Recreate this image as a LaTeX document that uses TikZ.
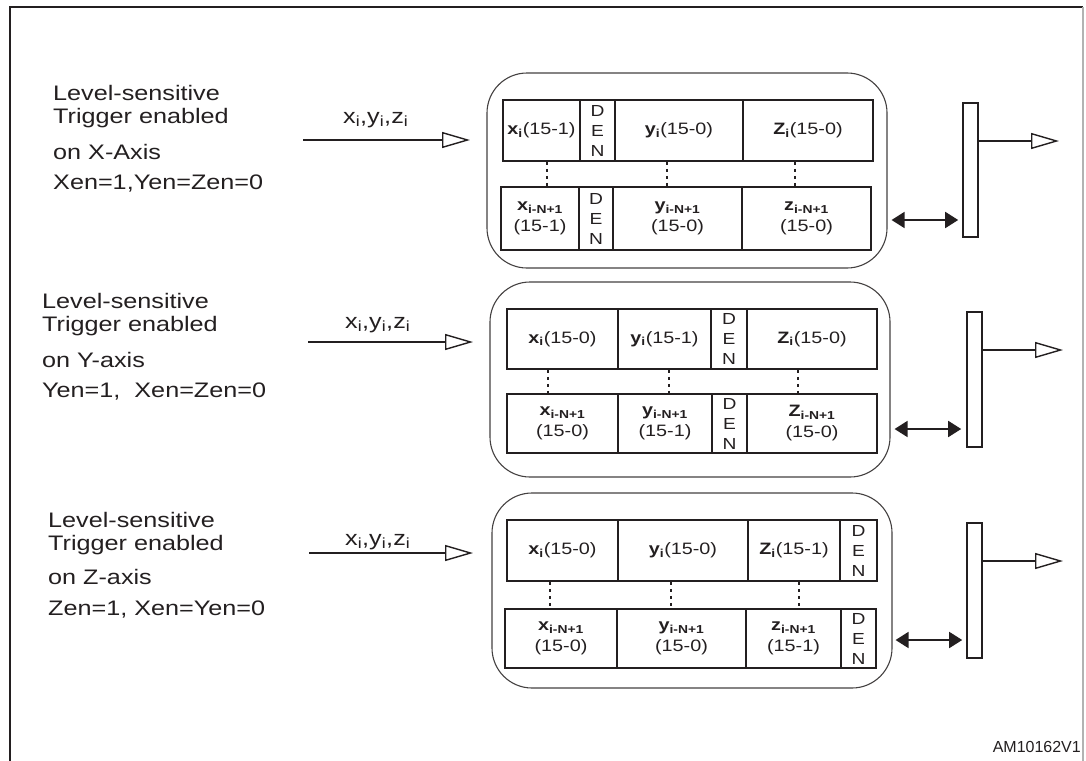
\documentclass[tikz,border=0pt]{standalone}
\usepackage{fontspec}
\setmainfont{Liberation Sans}[FakeStretch=1.2]
\newfontfamily\plainsans{Liberation Sans}
\usetikzlibrary{arrows.meta,calc}
\definecolor{ink}{HTML}{231F20}
\newcommand\bs[2]{\textbf{#1\textsubscript{#2}}}
\newcommand\rcell[7][cell]{\node[#1, minimum width={#4-#3}, minimum height={#6-#5}] (#2) at ({(#3+#4)/2},{(#5+#6)/2}) {#7};}
\newcommand\sidetext[1]{\begin{tabular}[t]{@{}l@{}}#1\end{tabular}}
\begin{document}
\begin{tikzpicture}[x=1pt,y=-1pt,
  cell/.style={draw=ink, line width=1.6pt, inner sep=0pt, align=center, text=ink,
    font=\fontsize{16.5}{21}\selectfont},
  den/.style={cell, font=\fontsize{16}{20}\selectfont},
  roundbox/.style={draw=ink!85, line width=1.1pt, rounded corners=40pt,
    minimum width=400pt, minimum height=195pt, inner sep=0pt},
  inarrow/.style={draw=ink, line width=1.6pt,
    -{Triangle[open, length=28pt, width=16pt, line width=1.4pt]}},
  dbl/.style={draw=ink, line width=1.8pt,
    {Triangle[length=13pt,width=16pt]}-{Triangle[length=13pt,width=16pt]}},
  bar/.style={draw=ink, line width=1.6pt, minimum width=15pt, inner sep=0pt},
  dotline/.style={draw=ink, line width=1.6pt, dash pattern=on 3pt off 4pt},
  side/.style={anchor=base west, text=ink, inner sep=0pt,
    font=\fontsize{21}{23.5}\selectfont},
  sig/.style={anchor=base west, text=ink, inner sep=0pt, font=\fontsize{21}{23.5}\selectfont}
]
\useasboundingbox (0,0) rectangle (1086,760);
% frame
\draw[ink, line width=1.8pt] (10,770) -- (10,7) -- (1083,7);
\draw[gray!60, line width=1.5pt] (1083,7) -- (1083,770);

% side labels
\node[side] (s1) at (53,100) {\sidetext{Level-sensitive\\Trigger enabled\\[12pt]on X-Axis\\[6.5pt]Xen=1,Yen=Zen=0}};
\node[side] (s2) at (42,308) {\sidetext{Level-sensitive\\Trigger enabled\\[12pt]on Y-axis\\[6.5pt]Yen=1,~ Xen=Zen=0}};
\node[side] (s3) at (48,527) {\sidetext{Level-sensitive\\Trigger enabled\\[10pt]on Z-axis\\[8pt]Zen=1, Xen=Yen=0}};

% input arrows
\node[sig] (l1) at (343,123) {x\textsubscript{i},y\textsubscript{i},z\textsubscript{i}};
\node[sig] (l2) at (345,328) {x\textsubscript{i},y\textsubscript{i},z\textsubscript{i}};
\node[sig] (l3) at (345,545) {x\textsubscript{i},y\textsubscript{i},z\textsubscript{i}};
\coordinate (i1s) at (303,140); \coordinate (i1e) at (470,140);
\coordinate (i2s) at (308,342); \coordinate (i2e) at (473,342);
\coordinate (i3s) at (309,553); \coordinate (i3e) at (473,553);
\draw[inarrow] (i1s) -- (i1e);
\draw[inarrow] (i2s) -- (i2e);
\draw[inarrow] (i3s) -- (i3e);

% rounded boxes
\node[roundbox] (box1) at (687,170.5) {};
\node[roundbox] (box2) at (690,379.5) {};
\node[roundbox] (box3) at (692,590.5) {};

% box 1 cells
\rcell{a1}{503}{580}{100}{161}{\bs{x}{i}(15-1)}
\rcell[den]{a2}{580}{615}{100}{161}{D\\E\\N}
\rcell{a3}{615}{743}{100}{161}{\bs{y}{i}(15-0)}
\rcell{a4}{743}{873}{100}{161}{\bs{Z}{i}(15-0)}
\rcell{b1}{501}{579}{187}{250}{\bs{x}{i-N+1}\\(15-1)}
\rcell[den]{b2}{579}{613}{187}{250}{D\\E\\N}
\rcell{b3}{613}{742}{187}{250}{\bs{y}{i-N+1}\\(15-0)}
\rcell{b4}{742}{871}{187}{250}{\bs{z}{i-N+1}\\(15-0)}
\draw[dotline] ([xshift=5.5pt]a1.south) -- ([xshift=5.5pt]a1.south |- b1.north);
\draw[dotline] ([xshift=-12pt]a3.south) -- ([xshift=-12pt]a3.south |- b3.north);
\draw[dotline] ([xshift=-13pt]a4.south) -- ([xshift=-13pt]a4.south |- b4.north);

% box 2 cells
\rcell{c1}{507}{618}{309}{369}{\bs{x}{i}(15-0)}
\rcell{c2}{618}{711}{309}{369}{\bs{y}{i}(15-1)}
\rcell[den]{c3}{711}{747}{309}{369}{D\\E\\N}
\rcell{c4}{747}{877}{309}{369}{\bs{Z}{i}(15-0)}
\rcell{d1}{507}{618}{394}{453}{\bs{x}{i-N+1}\\(15-0)}
\rcell{d2}{618}{712}{394}{453}{\bs{y}{i-N+1}\\(15-1)}
\rcell[den]{d3}{712}{747}{394}{453}{D\\E\\N}
\rcell{d4}{747}{877}{394}{453}{\bs{Z}{i-N+1}\\(15-0)}
\draw[dotline] ([xshift=-14.5pt]c1.south) -- ([xshift=-14.5pt]c1.south |- d1.north);
\draw[dotline] ([xshift=4.5pt]c2.south) -- ([xshift=4.5pt]c2.south |- d2.north);
\draw[dotline] ([xshift=-14pt]c4.south) -- ([xshift=-14pt]c4.south |- d4.north);

% box 3 cells
\rcell{e1}{507}{618}{520}{581}{\bs{x}{i}(15-0)}
\rcell{e2}{618}{748}{520}{581}{\bs{y}{i}(15-0)}
\rcell{e3}{748}{840}{520}{581}{\bs{Z}{i}(15-1)}
\rcell[den]{e4}{840}{877}{520}{581}{D\\E\\N}
\rcell{f1}{505}{617}{609}{668}{\bs{x}{i-N+1}\\(15-0)}
\rcell{f2}{617}{746}{609}{668}{\bs{y}{i-N+1}\\(15-0)}
\rcell{f3}{746}{841}{609}{668}{\bs{z}{i-N+1}\\(15-1)}
\rcell[den]{f4}{841}{876}{609}{668}{D\\E\\N}
\draw[dotline] ([xshift=-12.5pt]e1.south) -- ([xshift=-12.5pt]e1.south |- f1.north);
\draw[dotline] ([xshift=-12pt]e2.south) -- ([xshift=-12pt]e2.south |- f2.north);
\draw[dotline] ([xshift=5pt]e3.south) -- ([xshift=5pt]e3.south |- f3.north);

% bars
\node[bar, minimum height=134pt] (bar1) at (970.5,170) {};
\node[bar, minimum height=135pt] (bar2) at (974.5,379.5) {};
\node[bar, minimum height=135pt] (bar3) at (974.5,590.5) {};

% output arrows
\coordinate (o1) at (1059,141);
\coordinate (o2) at (1063,350);
\coordinate (o3) at (1063,561);
\draw[inarrow] (bar1.east |- o1) -- (o1);
\draw[inarrow] (bar2.east |- o2) -- (o2);
\draw[inarrow] (bar3.east |- o3) -- (o3);

% double arrows
\coordinate (k1) at (0,220);
\coordinate (k2) at (0,429);
\coordinate (k3) at (0,640);
\draw[dbl, shorten <=4pt, shorten >=4pt] (box1.east |- k1) -- (bar1.west |- k1);
\draw[dbl, shorten <=4pt, shorten >=5pt] (box2.east |- k2) -- (bar2.west |- k2);
\draw[dbl, shorten <=3pt, shorten >=4pt] (box3.east |- k3) -- (bar3.west |- k3);

\node[anchor=base east, inner sep=0pt, text=ink, font=\plainsans\fontsize{16}{19}\selectfont] (id) at (1081,752) {AM10162V1};
\end{tikzpicture}
\end{document}
